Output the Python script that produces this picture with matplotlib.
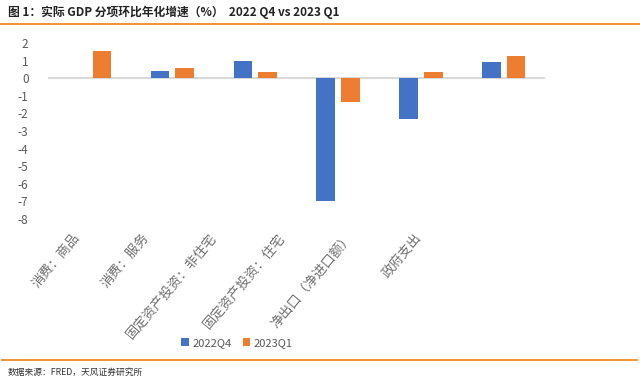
import matplotlib.pyplot as plt
import numpy as np
from matplotlib.lines import Line2D

plt.rcParams['font.family'] = ['Noto Sans CJK SC', 'DejaVu Sans']

categories = ["消费：商品", "消费：服务", "固定资产投资：非住宅", "固定资产投资：住宅", "净出口（净进口额）", "政府支出"]
q4_2022 = [0.0, 0.40, 0.99, -6.97, -2.34, 0.93]
q1_2023 = [1.55, 0.61, 0.36, -1.35, 0.38, 1.27]
yticks = [2, 1, 0, -1, -2, -3, -4, -5, -6, -7, -8]

blue = "#4472C4"
orange = "#ED7D31"
grey = "#595959"

fig = plt.figure(figsize=(6.4, 3.81), dpi=100)
ax = fig.add_axes([0.075, 0.425, 0.777, 0.462])

x = np.arange(len(categories))
w = 0.224
off = 0.149
ax.bar(x - off, q4_2022, width=w, color=blue, label="2022Q4", zorder=3)
ax.bar(x + off, q1_2023, width=w, color=orange, label="2023Q1", zorder=3)
ax.axhline(0, color="#d9d9d9", lw=1.5, zorder=2)

ax.set_xlim(-0.5, len(categories) - 0.5)
ax.set_ylim(-8, 2)
ax.set_yticks(yticks)
ax.set_yticklabels([str(v) for v in yticks], fontsize=8.5, color=grey)
# the category labels in the source sit a bit tighter than the bars
label_pos = -0.2 + 0.824 * x
ax.set_xticks(label_pos)
ax.set_xticklabels(categories, rotation=50, ha="right", rotation_mode="anchor",
                   fontsize=9.5, color="#6f6f6f")
ax.tick_params(axis="both", length=0)
ax.tick_params(axis="x", pad=9)
ax.tick_params(axis="y", pad=14)
for s in ax.spines.values():
    s.set_visible(False)

ax.legend(loc="center", bbox_to_anchor=(237 / 640, 1 - 343 / 381), bbox_transform=fig.transFigure,
          ncol=2, frameon=False, fontsize=8, handlelength=0.7, handleheight=0.7,
          handletextpad=0.3, columnspacing=1.0, labelcolor=grey)

fig.text(0.012, 1 - 12 / 381, "图 1：实际 GDP 分项环比年化增速（%）  2022 Q4 vs 2023 Q1",
         fontsize=8.5, fontweight="bold", color="#222222", va="center")
fig.add_artist(Line2D([0, 1], [1 - 24 / 381, 1 - 24 / 381], color="#F08A24", lw=1.3,
                      transform=fig.transFigure))
fig.add_artist(Line2D([0.003, 0.995], [1 - 360 / 381, 1 - 360 / 381], color="#F08A24", lw=1.3,
                      transform=fig.transFigure))
fig.text(0.012, 1 - 372 / 381, "数据来源：FRED，天风证券研究所", fontsize=6.3, color="#333333", va="center")

fig.savefig("out.png", dpi=100)
